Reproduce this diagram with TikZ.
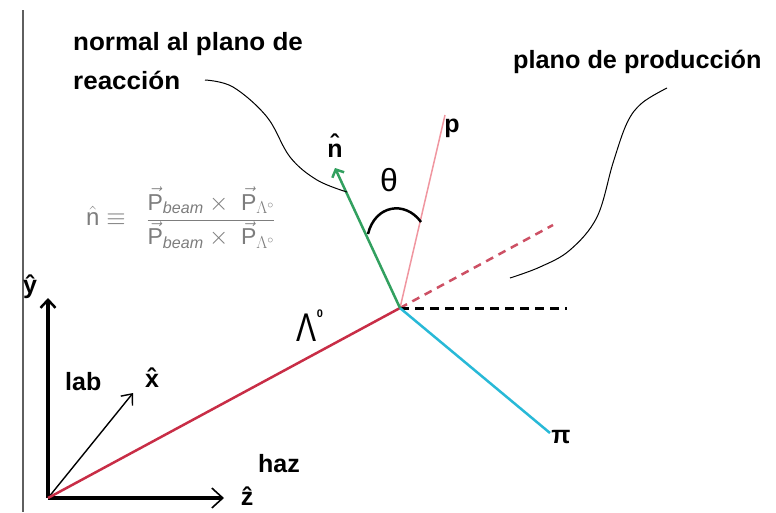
\documentclass[tikz,border=0pt]{standalone}
\usepackage{fontspec}
\setmainfont{Liberation Sans}
\newfontfamily\widefont[FakeStretch=1.04]{Liberation Sans}
\newfontfamily\widerfont[FakeStretch=1.01]{Liberation Sans}
\newfontfamily\narrowfont[FakeStretch=0.75]{Liberation Sans}
\usetikzlibrary{arrows.meta}
\definecolor{lamred}{RGB}{200,45,70}
\definecolor{dashred}{RGB}{205,80,100}
\definecolor{ngreen}{RGB}{50,160,95}
\definecolor{ppink}{RGB}{240,150,160}
\definecolor{picyan}{RGB}{40,185,215}
\definecolor{formgray}{RGB}{125,125,125}
\definecolor{bordergray}{RGB}{95,95,95}
\begin{document}
\begin{tikzpicture}[x=1pt,y=-1pt,
  lbl/.style={font=\fontsize{25}{29}\selectfont\bfseries, inner sep=0pt},
  axis/.style={line width=3.5pt, draw=black},
  leader/.style={line width=1pt, draw=black},
  track/.style={line width=2.5pt}]
\useasboundingbox (0,0) rectangle (776,512);
% left border line
\coordinate (b1) at (23,10);
\coordinate (b2) at (23,512);
\draw[bordergray, line width=1.2pt] (b1) -- (b2);

% key points
\coordinate (O) at (48,498);
\coordinate (Y) at (48,298);
\coordinate (Z) at (224,498);
\coordinate (X) at (133,393);
\coordinate (V) at (400,308);
\coordinate (Ve) at (553,225);
\coordinate (H) at (567,308);
\coordinate (N) at (335,168);
\coordinate (P) at (445,115);
\coordinate (Pi) at (550,433);

% axes
\draw[axis, -{Straight Barb[length=8pt,width=15pt,line width=2.5pt]}] (O) -- (Y);
\draw[axis, -{Straight Barb[length=11pt,width=20pt,line width=1.6pt]}] (O) -- (Z);
\draw[line width=1.4pt, -{Straight Barb[length=9pt,width=15pt,line width=1.4pt]}] (O) -- (X);

% tracks
\draw[track, lamred] (O) -- (V);
\draw[track, dashred, dash pattern=on 8pt off 6pt] (V) -- (Ve);
\draw[line width=3pt, black, dash pattern=on 9pt off 6pt] (V) -- (H);
\draw[line width=1.5pt, ppink] (P) -- (V);
\draw[track, picyan] (V) -- (Pi);
\draw[track, ngreen, -{Straight Barb[length=6pt,width=13pt,line width=2.5pt]}] (V) -- (N);

% theta arc
\coordinate (a1) at (368,234);
\coordinate (a2) at (421,222);
\draw[line width=2.5pt, black] (a1) .. controls (375,205) and (405,200) .. (a2);

% leaders
\draw[leader] plot[smooth, tension=0.6] coordinates {(205,80) (233,87) (267,117) (290,157) (317,180) (347,192)};
\draw[leader] plot[smooth, tension=0.6] coordinates {(667,88) (642,103) (627,123) (613,163) (597,217) (570,250) (540,267) (510,278)};

% texts
\node[lbl, font=\fontsize{25}{29}\widefont\bfseries, anchor=base west] (t1) at (73,50) {normal al plano de};
\node[lbl, font=\fontsize{25}{29}\widefont\bfseries, anchor=base west] (t2) at (73,89) {reacción};
\node[lbl, font=\fontsize{25}{29}\widerfont\bfseries, anchor=base west] (t3) at (513,68) {plano de producción};
\node[lbl, anchor=base west] (lab) at (65,390) {lab};
\node[lbl, anchor=base west] (haz) at (258,472) {haz};
\node[lbl, anchor=base] (ly) at (30,293) {\^{y}};
\node[lbl, anchor=base] (lx) at (152,387) {\^{x}};
\node[lbl, anchor=base] (lz) at (247,505) {\^{z}};
\node[lbl, anchor=base] (ln) at (335,157) {\^{n}};
\node[lbl, anchor=base] (lp) at (452,132) {p};
\node[lbl, anchor=center] (lpi) at (561,437) {π};
\node[inner sep=0pt, font=\fontsize{32}{34}\selectfont] (lth) at (389,180) {θ};
\node[inner sep=0pt, font=\fontsize{40}{40}\narrowfont] (llam) at (307,328) {Λ};
\node[inner sep=0pt, font=\fontsize{11}{12}\selectfont\bfseries] (l0) at (320,314) {0};

% formula
\node[inner sep=0pt, text=formgray, font=\fontsize{24}{26}\selectfont, anchor=west] (fn) at (86,216)
  {$\hat{\mathrm{n}}\equiv$};
\node[inner sep=0pt, text=formgray, font=\fontsize{23}{26}\selectfont] (ff) at (211,218)
  {$\displaystyle\frac{\vec{\mathrm{P}}_{\mathit{beam}}\times\;\vec{\mathrm{P}}_{\Lambda^{\circ}}}{\vec{\mathrm{P}}_{\mathit{beam}}\times\;\vec{\mathrm{P}}_{\Lambda^{\circ}}}$};
\end{tikzpicture}
\end{document}
